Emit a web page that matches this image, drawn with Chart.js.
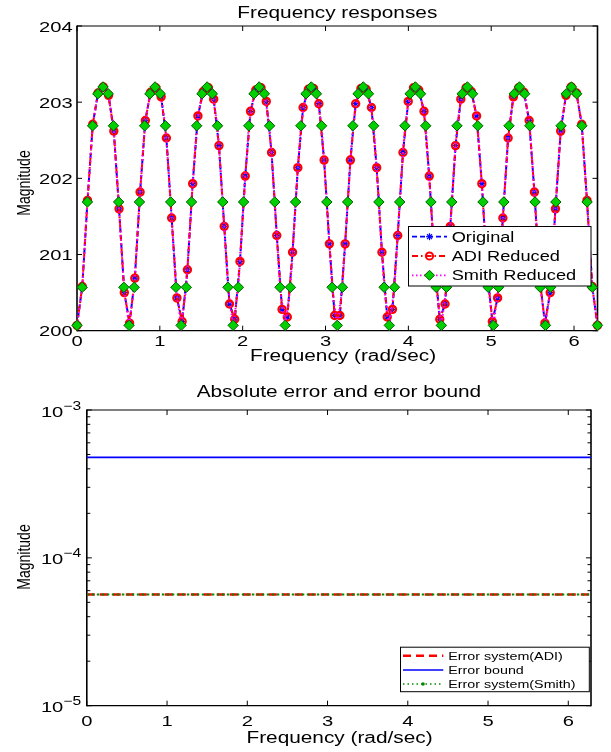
<!DOCTYPE html>
<html><head><meta charset="utf-8">
<script src="https://cdn.jsdelivr.net/npm/chart.js@4.4.0/dist/chart.umd.min.js"></script>
<style>
html,body{margin:0;padding:0;background:#fff;}
#wrap{position:relative;width:611px;height:752px;background:#fff;}
canvas{position:absolute;left:0;}
</style></head><body>
<div id="wrap">
<canvas id="cTop" width="611" height="370" style="top:0"></canvas>
<canvas id="cBot" width="611" height="382" style="top:370px"></canvas>
</div>
<script>
// ---------- data ----------
const freqOriginal = [0,0.0635,0.1269,0.1904,0.2539,0.3173,0.3808,0.4443,0.5077,0.5712,
0.6347,0.6981,0.7616,0.8251,0.8885,0.9520,1.0155,1.0789,1.1424,1.2059,
1.2693,1.3328,1.3963,1.4597,1.5232,1.5867,1.6501,1.7136,1.7771,1.8405,
1.9040,1.9675,2.0309,2.0944,2.1579,2.2213,2.2848,2.3483,2.4117,2.4752,
2.5387,2.6021,2.6656,2.7291,2.7925,2.8560,2.9195,2.9829,3.0464,3.1099,
3.1733,3.2368,3.3003,3.3637,3.4272,3.4907,3.5541,3.6176,3.6811,3.7445,
3.8080,3.8715,3.9349,3.9984,4.0619,4.1253,4.1888,4.2523,4.3157,4.3792,
4.4427,4.5061,4.5696,4.6331,4.6965,4.7600,4.8235,4.8869,4.9504,5.0139,
5.0773,5.1408,5.2043,5.2677,5.3312,5.3947,5.4581,5.5216,5.5851,5.6485,
5.7120,5.7755,5.8389,5.9024,5.9659,6.0293,6.0928,6.1563,6.2197,6.2832];

const magOriginal = [200.07,200.58,201.71,202.71,203.12,203.20,203.09,202.62,201.60,200.50,
200.10,200.69,201.82,202.76,203.13,203.19,203.07,202.53,201.48,200.43,
200.12,200.80,201.93,202.82,203.14,203.19,203.04,202.43,201.37,200.35,
200.15,200.91,202.03,202.88,203.16,203.19,203.01,202.34,201.25,200.28,
200.18,201.03,202.14,202.93,203.17,203.18,202.98,202.24,201.14,200.20,
200.20,201.14,202.24,202.98,203.18,203.17,202.93,202.14,201.03,200.18,
200.28,201.25,202.34,203.01,203.19,203.16,202.88,202.03,200.91,200.15,
200.35,201.37,202.43,203.04,203.19,203.14,202.82,201.93,200.80,200.12,
200.43,201.48,202.53,203.07,203.19,203.13,202.76,201.82,200.69,200.10,
200.50,201.60,202.62,203.09,203.20,203.12,202.71,201.71,200.58,200.07];

const magADI = [200.07,200.58,201.71,202.71,203.12,203.20,203.09,202.62,201.60,200.50,
200.10,200.69,201.82,202.76,203.13,203.19,203.07,202.53,201.48,200.43,
200.12,200.80,201.93,202.82,203.14,203.19,203.04,202.43,201.37,200.35,
200.15,200.91,202.03,202.88,203.16,203.19,203.01,202.34,201.25,200.28,
200.18,201.03,202.14,202.93,203.17,203.18,202.98,202.24,201.14,200.20,
200.20,201.14,202.24,202.98,203.18,203.17,202.93,202.14,201.03,200.18,
200.28,201.25,202.34,203.01,203.19,203.16,202.88,202.03,200.91,200.15,
200.35,201.37,202.43,203.04,203.19,203.14,202.82,201.93,200.80,200.12,
200.43,201.48,202.53,203.07,203.19,203.13,202.76,201.82,200.69,200.10,
200.50,201.60,202.62,203.09,203.20,203.12,202.71,201.71,200.58,200.07];

const freqSmith = [0,0.0628,0.1257,0.1885,0.2513,0.3142,0.3770,0.4398,0.5027,0.5655,
0.6283,0.6912,0.7540,0.8168,0.8796,0.9425,1.0053,1.0681,1.1310,1.1938,
1.2566,1.3195,1.3823,1.4451,1.5080,1.5708,1.6336,1.6965,1.7593,1.8221,
1.8850,1.9478,2.0106,2.0735,2.1363,2.1991,2.2619,2.3248,2.3876,2.4504,
2.5133,2.5761,2.6389,2.7018,2.7646,2.8274,2.8903,2.9531,3.0159,3.0788,
3.1416,3.2044,3.2673,3.3301,3.3929,3.4558,3.5186,3.5814,3.6442,3.7071,
3.7699,3.8327,3.8956,3.9584,4.0212,4.0841,4.1469,4.2097,4.2726,4.3354,
4.3982,4.4611,4.5239,4.5867,4.6496,4.7124,4.7752,4.8381,4.9009,4.9637,
5.0265,5.0894,5.1522,5.2150,5.2779,5.3407,5.4035,5.4664,5.5292,5.5920,
5.6549,5.7177,5.7805,5.8434,5.9062,5.9690,6.0319,6.0947,6.1575,6.2204,
6.2832];

const magSmith = [200.07,200.57,201.69,202.69,203.11,203.20,203.11,202.69,201.69,200.57,
200.07,200.57,201.69,202.69,203.11,203.20,203.11,202.69,201.69,200.57,
200.07,200.57,201.69,202.69,203.11,203.20,203.11,202.69,201.69,200.57,
200.07,200.57,201.69,202.69,203.11,203.20,203.11,202.69,201.69,200.57,
200.07,200.57,201.69,202.69,203.11,203.20,203.11,202.69,201.69,200.57,
200.07,200.57,201.69,202.69,203.11,203.20,203.11,202.69,201.69,200.57,
200.07,200.57,201.69,202.69,203.11,203.20,203.11,202.69,201.69,200.57,
200.07,200.57,201.69,202.69,203.11,203.20,203.11,202.69,201.69,200.57,
200.07,200.57,201.69,202.69,203.11,203.20,203.11,202.69,201.69,200.57,
200.07,200.57,201.69,202.69,203.11,203.20,203.11,202.69,201.69,200.57,
200.07];

const freqMax = 6.2832;
const freqTicks = [0,1,2,3,4,5,6];
const magTicks = [200,201,202,203,204];
const topLegendLabels = ['Original','ADI Reduced','Smith Reduced'];

const errFreq = [0, 6.2832];
const errADI = [5.64e-5, 5.64e-5];
const errBound = [4.78e-4, 4.78e-4];
const errSmith = [5.64e-5, 5.64e-5];
const errTickExps = [-5,-4,-3];
const errMinorMult = [2,3,4,5,6,7,8,9];
const botLegendLabels = ['Error system(ADI)','Error bound','Error system(Smith)'];

// ---------- helpers ----------
const FONT = '"Liberation Sans", Arial, Helvetica, sans-serif';
const SX = 1.3;
function txt(ctx, s, x, y, size, align, baseline){
  ctx.save();
  ctx.font = size + 'px ' + FONT;
  ctx.fillStyle = '#000';
  ctx.textAlign = align || 'center';
  ctx.textBaseline = baseline || 'alphabetic';
  ctx.translate(x, y);
  ctx.scale(SX, 1);
  ctx.fillText(s, 0, 0);
  ctx.restore();
}
function vtxt(ctx, s, x, y, size){
  ctx.save();
  ctx.font = size + 'px ' + FONT;
  ctx.fillStyle = '#000';
  ctx.textAlign = 'center';
  ctx.textBaseline = 'middle';
  ctx.translate(x, y);
  ctx.rotate(-Math.PI/2);
  ctx.scale(1, SX);
  ctx.fillText(s, 0, 0);
  ctx.restore();
}
function seg(ctx, x1, y1, x2, y2){ ctx.beginPath(); ctx.moveTo(x1,y1); ctx.lineTo(x2,y2); ctx.stroke(); }
function box(ctx, a){
  ctx.save();
  ctx.strokeStyle = '#000';
  ctx.setLineDash([]);
  ctx.lineWidth = 1.6;
  seg(ctx, a.left, a.top-0.5, a.left, a.bottom+0.5);
  seg(ctx, a.right, a.top-0.5, a.right, a.bottom+0.5);
  ctx.lineWidth = 1.2;
  seg(ctx, a.left, a.top, a.right, a.top);
  seg(ctx, a.left, a.bottom, a.right, a.bottom);
  ctx.restore();
}
function marker(ctx, style, x, y){
  ctx.save(); ctx.setLineDash([]);
  if (style === 'star'){
    ctx.strokeStyle = '#0000ff'; ctx.lineWidth = 1.2; const r = 3.5;
    for (let k=0;k<4;k++){ const t = k*Math.PI/4; seg(ctx, x-r*Math.cos(t), y-r*Math.sin(t), x+r*Math.cos(t), y+r*Math.sin(t)); }
  } else if (style === 'circle'){
    ctx.strokeStyle = '#ff0000'; ctx.lineWidth = 2; ctx.beginPath(); ctx.arc(x, y, 3.6, 0, 2*Math.PI); ctx.stroke();
  } else if (style === 'diamond'){
    const r = 5; ctx.fillStyle = '#00d000'; ctx.strokeStyle = '#005a00'; ctx.lineWidth = 1;
    ctx.beginPath(); ctx.moveTo(x, y-r); ctx.lineTo(x+r, y); ctx.lineTo(x, y+r); ctx.lineTo(x-r, y); ctx.closePath(); ctx.fill(); ctx.stroke();
  }
  ctx.restore();
}
function mk(freq, mag){ return freq.map((f,i)=>({x:f, y:mag[i]})); }

// ---------- top chart ----------
const topDecor = {
  id: 'topDecor',
  beforeDatasetsDraw(chart){
    const {ctx, chartArea:a, scales:{x, y}} = chart;
    ctx.save(); ctx.strokeStyle = '#000'; ctx.lineWidth = 1;
    freqTicks.forEach(v => { const px = x.getPixelForValue(v); seg(ctx, px, a.bottom, px, a.bottom-5); seg(ctx, px, a.top, px, a.top+5); });
    magTicks.forEach(v => { const py = y.getPixelForValue(v); seg(ctx, a.left, py, a.left+5, py); seg(ctx, a.right, py, a.right-5, py); });
    ctx.restore();
    box(ctx, a);
  },
  afterDatasetsDraw(chart){
    const {ctx} = chart;
    ctx.save();
    ctx.fillStyle = '#fff'; ctx.fillRect(408, 226, 183, 60);
    ctx.strokeStyle = '#000'; ctx.lineWidth = 1; ctx.strokeRect(408.5, 226.5, 182.5, 59.5);
    const rows = [236.7, 256, 275.3];
    const styles = [
      {c:'#0000ff', d:[5,3], m:'star'},
      {c:'#ff0000', d:[6,3,1.5,3], m:'circle'},
      {c:'#ff00ff', d:[1.5,2.5], m:'diamond'}
    ];
    rows.forEach((ry, i) => {
      ctx.save(); ctx.strokeStyle = styles[i].c; ctx.lineWidth = 1.8; ctx.setLineDash(styles[i].d);
      seg(ctx, 412, ry, 447, ry); ctx.restore();
      marker(ctx, styles[i].m, 429.5, ry);
      txt(ctx, topLegendLabels[i], 451.7, ry+5, 14, 'left');
    });
    ctx.restore();
  },
  afterDraw(chart){
    const {ctx, chartArea:a, scales:{x, y}} = chart;
    txt(ctx, 'Frequency responses', 337.3, 18.3, 16, 'center');
    freqTicks.forEach(v => txt(ctx, String(v), x.getPixelForValue(v), a.bottom + 15.6, 15.5, 'center'));
    magTicks.forEach(v => txt(ctx, String(v), a.left - 4.3, y.getPixelForValue(v) + 5.6, 15.5, 'right'));
    txt(ctx, 'Frequency (rad/sec)', 343, 361, 16, 'center');
    vtxt(ctx, 'Magnitude', 25, 183, 14);
  }
};

new Chart(document.getElementById('cTop'), {
  type: 'line',
  data: { datasets: [
    { label: topLegendLabels[0], data: mk(freqOriginal, magOriginal), borderColor:'#0000ff', borderWidth:2, borderDash:[5,3],
      pointStyle:'star', pointRadius:3.5, pointBorderColor:'#0000ff', pointBackgroundColor:'#0000ff', pointBorderWidth:1.2, order:2, clip:false, fill:false, tension:0 },
    { label: topLegendLabels[1], data: mk(freqOriginal, magADI), borderColor:'#ff0000', borderWidth:2, borderDash:[6,3,1.5,3],
      pointStyle:'circle', pointRadius:3.6, pointBorderColor:'#ff0000', pointBackgroundColor:'rgba(0,0,0,0)', pointBorderWidth:2.2, order:1, clip:false, fill:false, tension:0 },
    { label: topLegendLabels[2], data: mk(freqSmith, magSmith), borderColor:'#ff00ff', borderWidth:2, borderDash:[1.5,2.5],
      pointStyle:'rectRot', pointRadius:5.2, pointBorderColor:'#005a00', pointBackgroundColor:'#00d000', pointBorderWidth:1, order:0, clip:false, fill:false, tension:0 }
  ]},
  options: {
    responsive:false, animation:false, devicePixelRatio:1,
    layout:{ padding:{ left:77, right:13.5, top:26, bottom:39.3 } },
    scales:{
      x:{ type:'linear', min:0, max:freqMax, display:false },
      y:{ type:'linear', min:magTicks[0], max:magTicks[magTicks.length-1], display:false }
    },
    plugins:{ legend:{display:false}, tooltip:{enabled:false}, title:{display:false} },
    events: []
  },
  plugins:[topDecor]
});

// ---------- bottom chart ----------
const botDecor = {
  id: 'botDecor',
  beforeDatasetsDraw(chart){
    const {ctx, chartArea:a, scales:{x, y}} = chart;
    ctx.save(); ctx.strokeStyle = '#000'; ctx.lineWidth = 1;
    freqTicks.forEach(v => { const px = x.getPixelForValue(v); seg(ctx, px, a.bottom, px, a.bottom-5); seg(ctx, px, a.top, px, a.top+5); });
    errTickExps.forEach(e => { const py = y.getPixelForValue(Math.pow(10, e)); seg(ctx, a.left, py, a.left+5, py); seg(ctx, a.right, py, a.right-5, py); });
    errTickExps.slice(0, -1).forEach(e => errMinorMult.forEach(m => {
      const py = y.getPixelForValue(m * Math.pow(10, e)); seg(ctx, a.left, py, a.left+3.5, py); seg(ctx, a.right, py, a.right-3.5, py);
    }));
    ctx.restore();
    box(ctx, a);
  },
  afterDatasetsDraw(chart){
    const {ctx} = chart;
    ctx.save();
    ctx.fillStyle = '#fff'; ctx.fillRect(400, 276.7, 189.3, 45);
    ctx.strokeStyle = '#000'; ctx.lineWidth = 1; ctx.strokeRect(400.5, 277.2, 188.8, 44.5);
    const rows = [285.7, 300, 314];
    const styles = [
      {c:'#ff0000', d:[8,5], w:2.5},
      {c:'#0000ff', d:[], w:1.6},
      {c:'#008a00', d:[1.5,3], w:1.6}
    ];
    rows.forEach((ry, i) => {
      ctx.save(); ctx.strokeStyle = styles[i].c; ctx.lineWidth = styles[i].w; ctx.setLineDash(styles[i].d);
      seg(ctx, 403, ry, 443.3, ry); ctx.restore();
      if (i === 2){ ctx.save(); ctx.fillStyle = '#008a00'; ctx.beginPath(); ctx.arc(423, ry, 1.8, 0, 2*Math.PI); ctx.fill(); ctx.restore(); }
      txt(ctx, botLegendLabels[i], 448.3, ry+4, 11, 'left');
    });
    ctx.restore();
  },
  afterDraw(chart){
    const {ctx, chartArea:a, scales:{x, y}} = chart;
    txt(ctx, 'Absolute error and error bound', 338.9, 26.7, 16, 'center');
    freqTicks.forEach(v => txt(ctx, String(v), x.getPixelForValue(v), a.bottom + 20.5, 15.5, 'center'));
    errTickExps.forEach(e => {
      const py = y.getPixelForValue(Math.pow(10, e));
      txt(ctx, '10', a.left - 23.5, py + 6.5, 15.5, 'right');
      txt(ctx, '\u2212' + Math.abs(e), a.left - 23.5, py - 0.5, 12, 'left');
    });
    txt(ctx, 'Frequency (rad/sec)', 339.5, 373, 16, 'center');
    vtxt(ctx, 'Magnitude', 25, 187, 14);
  }
};

new Chart(document.getElementById('cBot'), {
  type: 'line',
  data: { datasets: [
    { label: botLegendLabels[0], data: mk(errFreq, errADI), borderColor:'#ff0000', borderWidth:2.5, borderDash:[8,5], pointRadius:0, order:2, fill:false, tension:0 },
    { label: botLegendLabels[1], data: mk(errFreq, errBound), borderColor:'#0000ff', borderWidth:1.6, pointRadius:0, order:1, fill:false, tension:0 },
    { label: botLegendLabels[2], data: mk(errFreq, errSmith), borderColor:'#008a00', borderWidth:2, borderDash:[2.5,2.5], pointRadius:0, order:0, fill:false, tension:0 }
  ]},
  options: {
    responsive:false, animation:false, devicePixelRatio:1,
    layout:{ padding:{ left:86.8, right:20, top:40, bottom:46.3 } },
    scales:{
      x:{ type:'linear', min:0, max:freqMax, display:false },
      y:{ type:'logarithmic', min:1e-5, max:1e-3, display:false }
    },
    plugins:{ legend:{display:false}, tooltip:{enabled:false}, title:{display:false} },
    events: []
  },
  plugins:[botDecor]
});
</script>
</body></html>
